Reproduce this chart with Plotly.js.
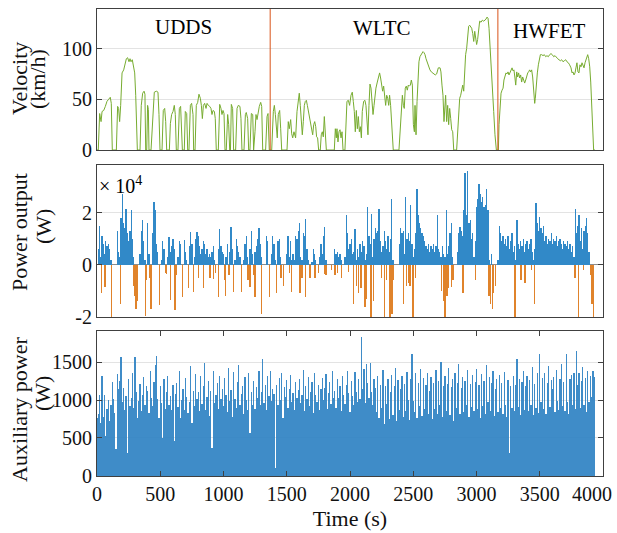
<!DOCTYPE html>
<html>
<head>
<meta charset="utf-8">
<script src="https://cdn.plot.ly/plotly-3.0.1.min.js"></script>
<style>html,body{margin:0;padding:0;background:#fff}#chart{width:617px;height:533px}</style>
</head>
<body>
<div id="chart"></div>
<script>
// ---------------- DATA ----------------
const cycleNames = ['UDDS', 'WLTC', 'HWFET'];
const cycleBounds = [1369, 3169];
const xTicks = [0, 500, 1000, 1500, 2000, 2500, 3000, 3500, 4000];

// Velocity (km/h) at time (s)
const velT = [0,10,21,32,40,53,66,79,92,105,113,121,153,163,171,179,187,198,211,221,232,242,253,261,269,279,290,298,306,314,319,340,350,361,372,379,385,393,400,406,411,427,440,453,469,482,490,498,514,524,535,543,551,572,580,590,601,611,619,627,640,651,661,669,675,690,698,709,717,727,738,748,759,764,775,785,796,806,817,825,833,841,851,862,870,880,891,901,909,917,928,935,943,959,970,980,988,996,1004,1012,1022,1033,1041,1049,1055,1062,1072,1080,1096,1107,1117,1130,1138,1146,1162,1173,1180,1191,1199,1209,1220,1231,1238,1249,1257,1265,1273,1283,1294,1302,1310,1333,1344,1352,1362,
1368,1381,1394,1402,1410,1418,1425,1433,1444,1452,1460,1502,1512,1520,1531,1539,1547,1557,1570,1581,1592,1599,1607,1615,1623,1631,1639,1647,1655,1663,1671,1678,1686,1697,1705,1713,1721,1729,1736,1744,1752,1765,1773,1781,1789,1797,1805,1813,1876,1884,1892,1897,1905,1913,1921,1929,1937,1945,1960,1976,1987,1997,2008,2018,2026,2034,2042,2050,2058,2066,2074,2082,2090,2097,2108,2118,2126,2134,2142,2150,2158,2166,2174,2182,2190,2198,2205,2216,2227,2234,2242,2250,2258,2266,2274,2282,2290,2298,2306,2313,2321,2329,2335,2342,2387,2395,2406,2414,2422,2429,2437,2445,2453,2461,2469,2477,2485,2493,2501,2509,2514,2522,2530,2538,2545,2553,2561,2569,2577,2585,2593,2601,2611,2622,2632,2643,2653,2664,2674,2685,2698,2712,2719,2727,2735,2743,2748,2756,2764,2772,2780,2788,2796,2804,2812,2820,2843,2851,2859,2867,2875,2883,2891,2899,2907,2914,2922,2930,2938,2946,2954,2962,2970,2978,2986,2993,3001,3009,3017,3025,3036,3046,3057,3067,3075,3083,3091,3099,3107,3115,3125,3136,3146,3157,3169,
3173,3178,3186,3194,3202,3210,3217,3225,3233,3241,3249,3257,3265,3273,3281,3289,3296,3304,3310,3318,3325,3333,3341,3349,3357,3365,3373,3381,3389,3397,3405,3412,3420,3428,3436,3444,3452,3460,3465,3473,3481,3489,3497,3505,3515,3526,3536,3547,3557,3568,3578,3589,3599,3610,3621,3631,3642,3652,3663,3673,3684,3694,3705,3715,3726,3736,3747,3755,3763,3771,3779,3786,3794,3802,3810,3818,3826,3834,3842,3850,3858,3868,3879,3887,3895,3903,3911,3919,3926,3937];
const velV = [0,0,36,28,38,39,43,48,50,52,46,0,0,43,41,28,44,76,79,86,90,91,87,90,87,89,82,76,54,18,0,0,44,56,58,55,0,0,44,40,0,0,31,57,58,57,35,0,0,39,41,28,0,0,26,35,38,44,35,0,0,41,43,25,0,0,38,36,0,0,44,46,35,0,0,44,47,55,51,44,31,44,46,41,46,44,43,41,35,39,38,31,0,0,45,41,35,39,36,0,0,35,25,0,0,45,41,0,0,41,44,43,31,0,0,35,37,31,0,0,36,35,0,18,35,30,38,43,47,43,0,0,33,36,0,
0,0,38,44,35,18,12,35,39,21,0,0,28,21,30,16,12,18,12,38,53,56,44,28,15,28,44,48,49,44,38,31,25,20,15,25,28,23,13,12,0,0,15,18,13,33,18,0,0,21,12,21,8,18,20,12,18,0,0,48,49,44,54,57,48,38,18,39,21,33,18,23,12,38,48,49,44,31,15,44,65,61,48,35,44,58,61,67,72,76,71,66,58,63,51,44,54,51,44,54,44,28,12,0,0,18,38,54,44,41,61,63,59,64,63,64,69,64,25,18,44,15,48,71,87,92,94,95,97,96,94,90,86,81,79,77,76,75,74,75,81,81,77,64,54,28,44,54,28,44,25,41,31,20,18,0,0,18,38,51,54,59,64,58,84,94,100,109,122,123,121,120,115,107,117,109,104,109,118,127,126,128,127,128,129,131,130,120,100,77,58,38,15,0,0,
0,25,48,56,59,61,69,74,76,75,77,74,77,78,81,78,79,71,64,77,72,76,71,74,67,72,69,66,69,74,76,77,79,77,79,72,61,46,51,67,76,84,89,94,94,93,94,92,93,92,94,95,94,92,93,91,90,89,88,89,87,88,89,87,86,84,81,76,77,74,76,81,86,77,76,84,82,86,84,81,86,90,94,90,82,67,38,12,0,0];

// Power output (x10^4 W), one value every 10 s: positive part
const powerStep = 10;
const powerPos = [
0,0.6,1.5,0.3,1.1,0.8,0.4,0.9,0.7,0.8,
0.6,0.2,0,0,0,0,1.3,0.5,0.3,1.8,
2.7,1.6,1.4,2.15,1.2,0.9,1.3,2.1,1.0,0.3,
0,0,0,0,0.4,1.3,1.7,0.9,0.2,0,
1.6,0.4,0,0,1.2,2.4,2.1,0.8,0.5,0,
0,0.2,0.9,0.6,0,0,0.3,1.06,0.5,0.7,
1.0,0.6,0,0,0.3,0.9,0.8,0,0,0.95,
0.5,0.2,0,0.7,1.25,0.8,0,0.3,1.0,1.25,
1.1,0.7,0.4,0.6,0.9,0.8,0.4,0.6,0.3,0.4,
0.3,0.5,0.7,0.2,0,0,0.6,1.38,0.7,0.5,
0.4,0,0.3,0.8,0,0.5,1.45,0.6,0,0.2,
1.0,0.7,0.5,0.3,0,0,0.2,0.8,1.1,0.3,
0,0.6,1.3,0.4,0,0.5,0.7,1.0,1.4,0.8,
0.3,0,0,0,1.1,0.9,0,0,0.4,1.1,
0.8,0.2,0,0.9,1.0,0.3,0,0,0,0,
0.4,1.1,0.3,0.9,0.2,0.4,0.2,1.1,1.0,1.3,
1.6,0.3,0.2,1.2,1.1,1.77,0.6,0.2,0,0,
0.1,0.6,0.4,0.2,0,0,0.3,0.8,0.4,1.1,
1.45,0.2,0,0,0,0,0,0,0.6,0.4,
0.5,0.3,0.4,0.2,0,0,0.3,1.9,1.2,0.6,
0.8,1.0,0.4,0.5,1.38,0.2,0.6,0.3,0.8,0.5,
0.9,0.7,0.2,0.4,2.2,1.1,0.8,1.96,0.3,1.0,
1.4,1.2,1.3,2.15,0.9,0.5,0.7,1.3,0.9,0.6,
1.1,0.5,1.0,2.5,0.2,0,0,0,0,0.8,
1.4,1.2,1.3,0.4,2.6,1.0,1.2,0.9,2.3,0.8,
0.3,0.6,1.2,2.9,1.9,1.6,1.4,1.2,1.1,0.9,
0.7,0.6,0.8,0.5,0.7,0.6,0.8,0.5,0.7,1.9,
0.6,0.5,0.3,0.7,0.4,0.3,2.1,0.4,0.7,1.2,
1.6,0.3,0,0,0,0.5,1.2,1.45,1.3,1.1,
2.1,3.5,1.9,3.6,1.6,1.7,1.0,1.2,0.3,0.9,
2.2,2.5,3.1,2.7,2.4,2.6,2.2,2.3,2.9,2.1,
0.2,0,0.4,0,0,0,0,0.2,1.5,1.2,
0.9,1.1,0.8,1.0,0.7,1.1,0.6,0.9,1.2,0.5,
0.7,0.2,1.7,0.8,0.6,0.9,0.7,1.0,0.5,0.8,
0.9,0.6,0.8,1.0,0.5,0.2,0.6,2.35,1.6,1.3,
1.83,1.4,1.2,1.5,0.9,1.1,0.8,1.0,0.9,1.2,
0.8,1.0,0.9,1.1,0.7,0.9,1.0,0.8,0.6,0.9,
0.8,0.7,0.9,0.6,0.8,0.5,0.7,0.3,2.15,1.2,
1.5,1.9,0.9,1.4,0.6,1.3,1.5,1.8,1.2,0.5,
0,0,0,0];

// Power output (x10^4 W): negative (regenerative) spikes
const negT = [37,63,116,187,290,300,310,320,382,392,415,427,495,540,548,582,616,630,674,722,761,801,840,893,920,935,959,1012,1017,1045,1078,1143,1195,1209,1238,1249,1302,1362,1420,1455,1473,1520,1539,1605,1620,1650,1684,1723,1750,1802,1810,1855,1880,1900,1934,1987,2026,2052,2066,2086,2118,2131,2166,2184,2250,2271,2289,2316,2334,2342,2424,2447,2462,2474,2500,2516,2724,2740,2750,2765,2777,2803,2815,2895,2991,3098,3110,3125,3133,3150,3304,3351,3383,3436,3457,3778,3805,3844,3905,3913,3923];
const negV = [-1.1,-0.86,-2.0,-1.5,-0.8,-1.2,-1.7,-1.4,-1.95,-0.6,-0.5,-1.7,-1.56,-0.3,-0.35,-1.35,-1.75,-0.4,-1.25,-0.9,-1.05,-0.5,-0.9,-0.5,-0.55,-0.3,-1.25,-0.6,-1.2,-0.4,-1.05,-1.05,-0.6,-0.85,-0.4,-1.25,-1.9,-1.25,-1.1,-0.5,-0.8,-0.3,-1.05,-1.1,-0.5,-1.25,-0.5,-0.5,-0.3,-0.35,-0.4,-0.2,-0.4,-0.3,-0.5,-0.28,-1.5,-0.8,-1.1,-0.9,-1.6,-1.3,-2.0,-1.4,-0.5,-2.0,-0.6,-2.0,-1.9,-0.6,-1.5,-0.8,-0.7,-0.8,-2.0,-0.5,-1.0,-1.4,-2.0,-1.2,-0.9,-0.85,-0.6,-1.1,-0.6,-1.2,-1.5,-1.7,-1.1,-0.8,-2.0,-0.6,-0.7,-0.2,-1.5,-0.5,-2.0,-0.2,-0.4,-1.5,-2.0];

// Auxiliary power (W), one value every 10 s
const auxStep = 10;
const auxPower = [
760,820,1060,700,1310,780,1070,520,880,1000,720,940,1240,1010,830,350,1340,1140,1250,1570,
980,1160,870,1050,300,1280,920,1020,1350,890,1570,1100,760,990,1210,860,1060,1300,940,1180,
1120,830,1380,1030,920,1240,1460,1580,1010,760,1190,960,500,1270,880,1100,1320,940,1050,870,
1200,460,1080,1230,910,1380,760,1000,1150,870,1290,1040,830,980,1450,700,1120,920,1340,1010,
1100,860,1310,950,1180,1490,870,1040,1250,790,1120,370,1380,960,1070,1230,880,1310,1010,1150,
920,1290,1060,840,1420,990,1130,780,1370,1010,890,1240,1460,930,1080,1190,820,1300,1000,870,
1360,570,1110,940,1250,880,1170,1020,1380,930,1100,1540,960,1200,870,1310,1050,1380,990,1140,
1080,100,1200,930,1290,1000,1350,760,1170,1040,1260,900,1140,1330,980,1090,870,1240,1020,1130,
1280,960,1070,1390,850,1180,1010,1300,920,1110,1240,830,1350,1060,980,1200,870,1150,1290,1000,
1160,1340,880,1090,1240,950,1380,1020,1120,900,1270,1030,1180,860,1320,1060,950,1200,1380,1090,
840,1250,1050,930,1370,1100,980,1280,1010,1830,1150,1410,960,1480,1220,1030,1490,1100,930,1270,
1160,840,1310,760,1200,890,1400,680,1180,950,1270,750,1110,1330,800,1190,1420,730,1260,870,
1150,1310,780,1210,860,1370,1000,740,1280,1600,990,840,1350,760,1230,920,1410,790,1290,880,
1200,1360,810,1120,1300,750,1230,880,1390,820,1250,940,1500,780,1180,1310,860,1210,1420,800,
1170,1270,730,1350,890,1220,1480,810,1160,1300,840,1250,930,1390,780,1210,910,1330,850,1240,
1410,880,1200,760,1340,920,1250,820,1460,970,1300,860,1220,1380,790,1150,1270,840,1330,900,
1230,810,1370,940,780,1260,300,1190,890,1310,860,1200,1540,910,1280,800,1240,1380,870,1190,
1320,850,1260,940,1440,800,1210,900,1360,830,1600,970,1290,880,1350,820,1230,1450,910,1260,
1150,1300,840,1390,990,870,1280,1480,920,1240,860,1600,970,820,1270,1330,940,1350,880,1640,
1200,1360,890,1250,1430,930,1290,840,1380,970,1310,1040,1380,1300];

// ---------------- CHART ----------------
const powerT = powerPos.map((_, i) => i * powerStep);
const auxT = auxPower.map((_, i) => i * auxStep);

const FONT = 'Liberation Serif, Times New Roman, serif';
const AX = '#404040';
const GRID = '#e3e3e3';

const traces = [
  { type: 'scatter', mode: 'lines', x: velT, y: velV, xaxis: 'x', yaxis: 'y',
    line: { color: '#77AC30', width: 1 }, name: 'Velocity' },
  { type: 'bar', x: powerT, y: powerPos, xaxis: 'x2', yaxis: 'y2', width: 10,
    marker: { color: '#3189c8', line: { width: 0 } }, name: 'Power output (+)' },
  { type: 'bar', x: negT, y: negV, xaxis: 'x2', yaxis: 'y2', width: 12,
    marker: { color: '#e0832b', line: { width: 0 } }, name: 'Power output (−)' },
  { type: 'bar', x: auxT, y: auxPower, xaxis: 'x3', yaxis: 'y3', width: 10,
    marker: { color: '#2a80c2', opacity: 0.9, line: { width: 0 } }, name: 'Auxiliary power' }
];

const xBase = {
  range: [0, 4000], showline: true, mirror: true, linecolor: AX, linewidth: 1,
  showgrid: false, zeroline: false, fixedrange: true
};
const yBase = {
  showline: true, mirror: 'ticks', linecolor: AX, linewidth: 1,
  ticks: 'inside', ticklen: 5, tickcolor: AX,
  showgrid: true, gridcolor: GRID, gridwidth: 1, zeroline: false,
  tickfont: { family: FONT, size: 20, color: '#111' }, fixedrange: true
};
const titleFont = { family: FONT, size: 22, color: '#111' };
const tickFont = { family: FONT, size: 20, color: '#111' };

function ytitle(text, xpx, ypx) {
  return { xref: 'paper', yref: 'paper', x: (xpx - 97) / 506, y: (476 - ypx) / 467,
    xanchor: 'center', yanchor: 'middle', textangle: -90, text: text, showarrow: false,
    font: titleFont };
}

// last x tick label sits shifted left inside the figure, as in the reference
const lastTick = xTicks[xTicks.length - 1];

const layout = {
  width: 617, height: 533,
  margin: { l: 97, r: 14, t: 9, b: 57 },
  paper_bgcolor: '#fff', plot_bgcolor: '#fff',
  showlegend: false, barmode: 'overlay', bargap: 0,
  font: { family: FONT, color: '#111' },
  xaxis: Object.assign({}, xBase, { domain: [0, 1], anchor: 'y', showticklabels: false, ticks: '' }),
  yaxis: Object.assign({}, yBase, { domain: [0.698, 1], range: [0, 139], tickvals: [0, 50, 100] }),
  xaxis2: Object.assign({}, xBase, { domain: [0, 1], anchor: 'y2', showticklabels: false, ticks: '' }),
  yaxis2: Object.assign({}, yBase, { domain: [0.3405, 0.666], range: [-2, 3.82], tickvals: [-2, 0, 2],
    ticktext: ['-2', '0', '2'], zeroline: true, zerolinecolor: '#8c8c8c', zerolinewidth: 1 }),
  xaxis3: Object.assign({}, xBase, { domain: [0, 1], anchor: 'y3', mirror: 'ticks', ticks: 'inside', ticklen: 5,
    tickcolor: AX, tickvals: xTicks.slice(0, -1),
    tickfont: tickFont,
    title: { text: 'Time (s)', font: titleFont, standoff: 6 } }),
  yaxis3: Object.assign({}, yBase, { domain: [0, 0.3105], range: [0, 1908], tickvals: [0, 500, 1000, 1500] }),
  shapes: cycleBounds.map(b => ({ type: 'line', xref: 'x', yref: 'y domain', x0: b, x1: b, y0: 0, y1: 1,
    line: { color: '#D95319', width: 1 } })),
  annotations: [
    ytitle('Velocity', 19, 79), ytitle('(km/h)', 37, 79),
    ytitle('Power output', 19, 232), ytitle('(W)', 43, 227),
    ytitle('Auxiliary power', 19, 410), ytitle('(W)', 42, 394),
    { xref: 'x', yref: 'y', x: 680, y: 121, text: cycleNames[0], showarrow: false,
      font: { family: FONT, size: 21, color: '#000' } },
    { xref: 'x', yref: 'y', x: 2249, y: 120, text: cycleNames[1], showarrow: false,
      font: { family: FONT, size: 21, color: '#000' } },
    { xref: 'x', yref: 'y', x: 3577, y: 117, text: cycleNames[2], showarrow: false,
      font: { family: FONT, size: 21, color: '#000' } },
    { xref: 'paper', yref: 'paper', x: (614 - 97) / 506, y: (476 - 494) / 467,
      xanchor: 'right', yanchor: 'middle', text: String(lastTick), showarrow: false,
      font: tickFont },
    { xref: 'x2 domain', yref: 'y2 domain', x: 0, y: 1, xanchor: 'left', yanchor: 'top',
      xshift: 0, yshift: -6, text: '× 10<sup>4</sup>', showarrow: false,
      font: { family: FONT, size: 20, color: '#000' } }
  ]
};

Plotly.newPlot('chart', traces, layout, { displayModeBar: false, staticPlot: true });
</script>
</body>
</html>
